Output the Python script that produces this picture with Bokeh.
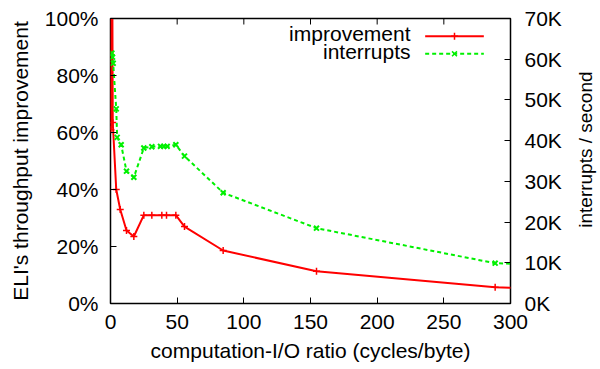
import math
from bokeh.plotting import figure
from bokeh.layouts import row
from bokeh.models import Range1d, LinearAxis, FixedTicker, PrintfTickFormatter
from bokeh.core.properties import value
from bokeh.embed import file_html
from bokeh.resources import INLINE

# ---- data ----
ratio_imp = [0.3, 1.0, 1.7, 4.3, 7.3, 12, 17.5, 25, 31, 38.5, 42, 49, 55.5, 84.5, 154.5, 288.5, 330]
improvement = [61, 160, 63.5, 40, 33, 25.6, 23.5, 31, 31, 31, 31, 31, 27, 18.6, 11.3, 5.7, 5.0]

ratio_int = [1.0, 1.5, 2.0, 4.3, 5.0, 8, 12, 17.5, 25, 31, 37.5, 40, 42.5, 49, 55.5, 84.5, 154.5, 288.5, 330]
interrupts_k = [61.5, 60.5, 59, 47.8, 40.8, 39, 32.5, 31, 38.2, 38.5, 38.6, 38.6, 38.6, 39, 36.2, 27.2, 18.5, 9.9, 9.4]

x_ticks = [0, 50, 100, 150, 200, 250, 300]
y_ticks = [0, 20, 40, 60, 80, 100]
y2_ticks = [0, 10, 20, 30, 40, 50, 60, 70]

FONT = "Liberation Sans"
FS = "21px"
FS_RIGHT_TITLE = "19px"
RED = "#ff0000"
GREEN = "#00f000"

p = figure(width=570, height=369, x_range=Range1d(0, 300), y_range=Range1d(0, 100),
           min_border_left=110, min_border_right=60, min_border_top=18, min_border_bottom=66,
           output_backend="svg", toolbar_location=None)
p.extra_y_ranges = {"y2": Range1d(0, 70)}
p.xgrid.visible = False
p.ygrid.visible = False
p.outline_line_color = "black"
p.outline_line_width = 1.5
p.background_fill_color = "white"
p.border_fill_color = "white"

def style_axis(ax):
    ax.axis_line_color = None
    ax.major_tick_in = 6
    ax.major_tick_out = 0
    ax.minor_tick_line_color = None
    ax.major_tick_line_color = "black"
    ax.major_tick_line_width = 1
    ax.major_label_text_font = FONT
    ax.major_label_text_font_size = FS
    ax.major_label_text_color = "black"
    ax.axis_label_text_font = FONT
    ax.axis_label_text_font_size = FS
    ax.axis_label_text_font_style = "normal"
    ax.axis_label_text_color = "black"

# bottom axis
xa = p.xaxis[0]
style_axis(xa)
xa.ticker = FixedTicker(ticks=x_ticks)
xa.axis_label = "computation-I/O ratio (cycles/byte)"
xa.major_label_standoff = 11
xa.axis_label_standoff = 7

# left axis
ya = p.yaxis[0]
style_axis(ya)
ya.ticker = FixedTicker(ticks=y_ticks)
ya.formatter = PrintfTickFormatter(format="%d%%")
ya.axis_label = "ELI's throughput improvement"
ya.major_label_standoff = 12
ya.axis_label_standoff = 10

# right axis (interrupts)
ra = LinearAxis(y_range_name="y2", ticker=FixedTicker(ticks=y2_ticks),
                formatter=PrintfTickFormatter(format="%dK"))
style_axis(ra)
ra.major_label_standoff = 14
p.add_layout(ra, "right")

# mirrored ticks on the top edge (half of each dash is clipped by the frame)
p.scatter(x_ticks, [100] * len(x_ticks), marker="dash", angle=math.pi / 2, size=12,
          line_color="black", line_width=1)

# series
p.line(ratio_imp, improvement, line_color=RED, line_width=2)
p.scatter(ratio_imp, improvement, marker="cross", size=7, line_color=RED, line_width=1.5)

p.line(ratio_int, interrupts_k, y_range_name="y2", line_color=GREEN, line_width=2, line_dash="4 3")
p.scatter(ratio_int, interrupts_k, y_range_name="y2", marker="x", size=7,
          line_color=GREEN, line_width=2)

# legend (gnuplot style: label right-aligned, sample on the right)
leg_text_x = 225
leg_x0, leg_x1 = 236, 280
rows = [("improvement", RED, None, "cross", 94.6, 93.8),
        ("interrupts", GREEN, "4 3", "x", 88.5, 87.6)]
for text, col, dash, mk, ty, ly in rows:
    p.text(x=[leg_text_x], y=[ty], text=[text], text_align="right", text_baseline="middle",
           text_font=value(FONT), text_font_size=FS, text_color="black")
    if dash:
        p.line([leg_x0, leg_x1], [ly, ly], line_color=col, line_width=2, line_dash=dash)
    else:
        p.line([leg_x0, leg_x1], [ly, ly], line_color=col, line_width=2)
    p.scatter([(leg_x0 + leg_x1) / 2], [ly], marker=mk, size=7, line_color=col, line_width=1.5)

# right-hand axis title, read bottom-to-top (as in the reference)
q = figure(width=30, height=369, x_range=Range1d(0, 1), y_range=Range1d(0, 1),
           x_axis_location=None, y_axis_location=None,
           min_border_left=0, min_border_right=0, min_border_top=0, min_border_bottom=0,
           output_backend="svg", toolbar_location=None)
q.outline_line_color = None
q.xgrid.visible = False
q.ygrid.visible = False
q.background_fill_color = "white"
q.border_fill_color = "white"
q.text(x=[0.5], y=[0.54], text=["interrupts / second"], angle=math.pi / 2,
       text_align="center", text_baseline="middle",
       text_font=value(FONT), text_font_size=FS_RIGHT_TITLE, text_color="black")

open("out.html", "w").write(file_html(row(p, q), INLINE))
